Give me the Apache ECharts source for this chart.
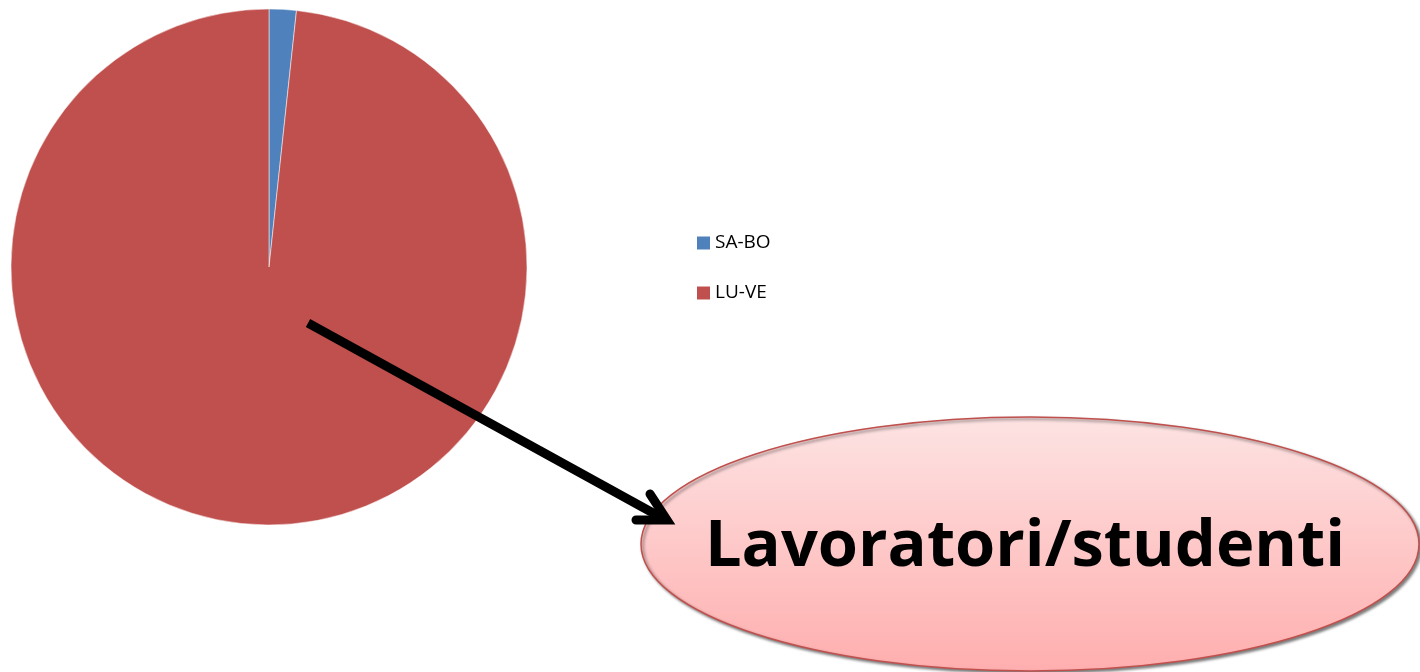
<!DOCTYPE html>
<html>
<head>
<meta charset="utf-8">
<script src="https://cdn.jsdelivr.net/npm/echarts@6/dist/echarts.min.js"></script>
<style>
  html, body { margin: 0; padding: 0; background: #fff; }
  #chart { width: 1420px; height: 672px; }
</style>
</head>
<body>
<div id="chart"></div>
<script>
// fasce orarie
const categories = ['SA-BO', 'LU-VE']
const values = [1.7, 98.3]
const colors = ['#4f81bd', '#c0504d']
const calloutText = 'Lavoratori/studenti'

const chart = echarts.init(document.getElementById('chart'))

let option = {
  animation: false,
  legend: {
    orient: 'vertical',
    left: 692,
    top: 228,
    itemWidth: 13,
    itemHeight: 13,
    itemGap: 30,
    icon: 'rect',
    data: categories,
    itemStyle: { borderWidth: 0 },
    textStyle: {
      fontFamily: 'Open Sans',
      fontSize: 19,
      lineHeight: 20,
      color: '#000'
    }
  },
  series: [{
    type: 'pie',
    center: [269, 267],
    radius: 258,
    startAngle: 90,
    clockwise: true,
    label: { show: false },
    labelLine: { show: false },
    itemStyle: { borderColor: '#fff', borderWidth: 0.5 },
    data: categories.map((c, i) => ({
      name: c,
      value: values[i],
      itemStyle: { color: colors[i] }
    }))
  }],
  graphic: [
    {
      type: 'ellipse',
      shape: { cx: 1030, cy: 544, rx: 389, ry: 127 },
      style: {
        fill: new echarts.graphic.LinearGradient(0, 0, 0, 1, [
          { offset: 0, color: '#fde3e3' },
          { offset: 1, color: '#ffaeae' }
        ]),
        stroke: '#c0504d',
        lineWidth: 1.5,
        shadowBlur: 3,
        shadowOffsetX: 2,
        shadowOffsetY: 2,
        shadowColor: 'rgba(0,0,0,0.5)'
      },
      z: 10
    },
    {
      type: 'text',
      x: 1025,
      y: 547,
      style: {
        text: calloutText,
        fontFamily: 'Open Sans',
        fontWeight: 'bold',
        fontSize: 65,
        fill: '#000',
        align: 'center',
        verticalAlign: 'middle'
      },
      z: 11
    },
    {
      type: 'line',
      shape: { x1: 308, y1: 323, x2: 664, y2: 519 },
      style: { stroke: '#000', lineWidth: 9 },
      z: 12
    },
    {
      type: 'polyline',
      shape: { points: [[650, 494], [667, 520], [636, 520]] },
      style: { stroke: '#000', lineWidth: 9, lineCap: 'round', lineJoin: 'miter', fill: null },
      z: 12
    }
  ]
}

chart.setOption(option)
</script>
</body>
</html>
